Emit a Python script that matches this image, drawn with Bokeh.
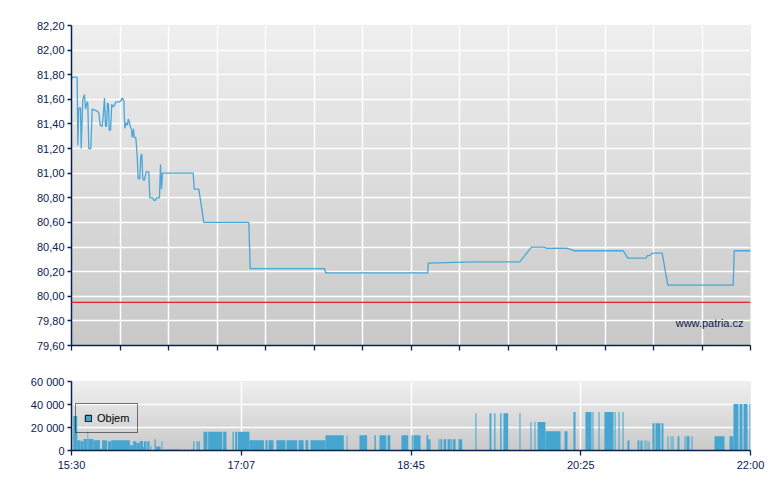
import numpy as np
from bokeh.plotting import figure
from bokeh.models import Range1d, FixedTicker, Legend, LegendItem, Label, Span
from bokeh.layouts import column
from bokeh.embed import file_html
from bokeh.resources import INLINE

# ---------------- data ----------------
# minutes after 15:30
price_times = [0, 0.75, 3.27, 3.62, 4.19, 5.17, 5.57, 6.49, 7.47, 8.04, 9.02, 9.36, 9.94, 11.09,
               11.89, 13.78, 15.11, 15.68, 16.48, 17.63, 18.38, 18.95, 19.53, 20.10, 20.68, 21.25,
               21.65, 22.40, 23.15, 23.95, 24.70, 25.44, 27.74, 28.55, 29.12, 30.04, 30.61, 31.42,
               32.16, 32.57, 33.31, 33.89, 34.46, 34.86, 35.61, 36.01, 36.93, 37.74, 38.31, 39.23,
               39.80, 40.38, 40.95, 41.76, 42.91, 44.40, 44.97, 46.70, 47.27, 48.25, 48.65, 50.54,
               51.12, 51.69, 52.27, 69.90, 70.47, 73.12, 75.99, 101.84, 102.64, 145.32, 145.89,
               204.65, 204.88, 231.07, 257.49, 264.21, 271.28, 272.83, 284.72, 288.51, 316.88,
               319.52, 330.09, 330.67, 332.16, 333.54, 339.28, 342.50, 380.06, 380.64, 390]
prices = [81.77, 81.78, 81.78, 81.225, 81.53, 81.53, 81.20, 81.60, 81.64, 81.52, 81.58, 81.57,
          81.20, 81.20, 81.52, 81.51, 81.50, 81.49, 81.39, 81.38, 81.49, 81.61, 81.38, 81.38,
          81.57, 81.56, 81.35, 81.35, 81.56, 81.54, 81.55, 81.58, 81.58, 81.59, 81.61, 81.59,
          81.365, 81.41, 81.39, 81.44, 81.41, 81.37, 81.36, 81.29, 81.36, 81.29, 81.29, 81.14,
          80.955, 80.955, 81.14, 81.155, 80.955, 80.94, 81.01, 81.01, 80.80, 80.80, 80.78, 80.78,
          80.80, 80.80, 81.07, 80.87, 81.00, 81.00, 80.87, 80.87, 80.60, 80.60, 80.225, 80.225,
          80.19, 80.19, 80.27, 80.28, 80.28, 80.40, 80.40, 80.39, 80.39, 80.37, 80.37, 80.31,
          80.31, 80.33, 80.33, 80.35, 80.35, 80.09, 80.09, 80.37, 80.37]
prev_close = 79.95

vol_start = [1.0, 3.3, 5.2, 6.9, 9.2, 9.6, 12.6, 16.3, 17.6, 21.0,
             22.8, 33.5, 35.4, 37.3, 39.2, 41.1, 41.6, 43.5, 45.4, 47.7,
             48.4, 51.7, 52.3, 64.3, 66.9, 68.9, 69.9, 71.8, 72.9, 75.8,
             78.5, 87.1, 92.5, 94.0, 95.6, 102.2, 111.4, 113.2, 117.7, 123.5,
             130.4, 134.4, 137.3, 145.9, 158.0, 165.4, 174.0, 176.9, 181.5, 189.5,
             195.3, 196.4, 203.9, 204.9, 210.8, 211.9, 213.7, 216.0, 218.1, 219.2,
             222.3, 232.0, 240.1, 242.8, 246.2, 248.1, 257.3, 263.6, 265.9, 267.7,
             272.2, 283.2, 288.3, 295.2, 299.2, 302.7, 306.1, 311.9, 314.2, 316.5,
             319.3, 325.1, 326.8, 329.1, 330.3, 331.4, 333.7, 335.4, 338.9, 342.3,
             344.1, 345.2, 348.1, 352.1, 353.2, 356.1, 369.3, 377.9, 380.2, 383.7,
             386.0, 389.4]
vol_end = [3.3, 5.2, 6.9, 9.2, 9.6, 12.6, 16.3, 17.5, 20.5, 22.7,
           33.5, 35.4, 37.3, 39.2, 41.1, 41.6, 43.1, 44.8, 45.9, 48.4,
           51.1, 52.2, 62.2, 64.9, 67.5, 69.5, 70.6, 72.5, 73.7, 78.1,
           86.6, 89.0, 93.2, 95.2, 102.2, 110.5, 112.6, 116.0, 122.9, 129.6,
           133.3, 136.0, 145.9, 156.4, 158.5, 169.8, 174.8, 180.8, 183.1, 193.4,
           196.0, 200.5, 204.9, 206.2, 211.4, 212.9, 215.2, 217.7, 218.7, 220.6,
           224.4, 232.6, 241.2, 243.5, 247.0, 250.8, 257.9, 264.2, 266.5, 272.2,
           280.9, 284.9, 289.5, 298.7, 299.8, 303.3, 311.3, 312.5, 314.8, 317.1,
           320.5, 326.2, 328.0, 329.7, 330.8, 332.0, 334.9, 338.3, 340.0, 342.9,
           344.6, 345.8, 349.2, 352.7, 355.0, 356.7, 375.1, 380.2, 383.1, 385.4,
           388.3, 390.0]
volumes = [30000, 9000, 8000, 10000, 16500, 10000, 9000, 1500, 9000, 8000,
           9000, 4500, 8000, 6500, 8200, 3000, 8000, 8000, 4000, 9700,
           3500, 8000, 900, 900, 900, 1500, 8000, 8000, 8000, 16200,
           16200, 16200, 16200, 16200, 16200, 9000, 9000, 9000, 9000, 9000,
           9000, 9000, 9000, 13200, 13200, 13200, 13200, 13200, 13200, 13200,
           13200, 13200, 13200, 9700, 9700, 9700, 9700, 9700, 9700, 9700,
           9700, 32500, 32500, 32500, 32500, 32500, 32500, 24700, 24700, 24700,
           16800, 16800, 33500, 33500, 33500, 33500, 33500, 33500, 33500, 33500,
           8800, 8800, 8800, 8800, 8800, 8000, 23800, 23800, 23800, 12300,
           12300, 12300, 12300, 12300, 12300, 12300, 12300, 12300, 40500, 40500,
           40500, 40500]

price_ticks = [79.6, 79.8, 80.0, 80.2, 80.4, 80.6, 80.8, 81.0, 81.2, 81.4, 81.6, 81.8, 82.0, 82.2]
price_tick_labels = ["79,60", "79,80", "80,00", "80,20", "80,40", "80,60", "80,80", "81,00",
                     "81,20", "81,40", "81,60", "81,80", "82,00", "82,20"]
vol_ticks = [0, 20000, 40000, 60000]
vol_tick_labels = ["0", "20 000", "40 000", "60 000"]
time_ticks = [0, 97.5, 195, 292.5, 390]
time_tick_labels = ["15:30", "17:07", "18:45", "20:25", "22:00"]
session_minutes = 390

# ---------------- style ----------------
NAVY = "#0b2150"
LINE = "#4aa6d6"
BAR = "#46a6d0"
FONT = "Liberation Sans"


def gradient(top, bottom, n=128):
    vals = np.linspace(bottom, top, n).round().astype(np.uint8)
    img = np.empty((n, 2), dtype=np.uint32)
    view = img.view(dtype=np.uint8).reshape((n, 2, 4))
    view[:, :, 0] = vals[:, None]
    view[:, :, 1] = vals[:, None]
    view[:, :, 2] = vals[:, None]
    view[:, :, 3] = 255
    return img


def style_axes(p):
    for ax in (p.xaxis, p.yaxis):
        ax.axis_line_color = NAVY
        ax.axis_line_width = 1.5
        ax.major_tick_line_color = NAVY
        ax.major_tick_line_width = 1.3
        ax.major_tick_in = 0
        ax.minor_tick_line_color = None
        ax.major_label_text_font = FONT
        ax.major_label_text_font_size = "11px"
        ax.major_label_text_color = NAVY
    p.yaxis.major_tick_out = 4
    p.yaxis.major_label_standoff = 3
    p.xaxis.major_tick_out = 5
    p.xaxis.major_label_standoff = 3
    p.grid.grid_line_color = "white"
    p.grid.grid_line_width = 1.5
    p.outline_line_color = None
    p.border_fill_color = "white"
    p.background_fill_color = "#dcdcdc"


# ---------------- price chart ----------------
p1 = figure(frame_width=679, frame_height=320, min_border_left=71, min_border_right=15,
            min_border_top=25, min_border_bottom=10,
            x_range=Range1d(0, session_minutes), y_range=Range1d(price_ticks[0], price_ticks[-1]),
            output_backend="svg", toolbar_location=None)
p1.image_rgba(image=[gradient(239, 200)], x=0, y=price_ticks[0], dw=session_minutes,
              dh=price_ticks[-1] - price_ticks[0], level="image")
style_axes(p1)
minor_time_ticks = [i * session_minutes / 14 for i in range(15)]
p1.xaxis.ticker = FixedTicker(ticks=minor_time_ticks)
p1.xaxis.major_label_overrides = {t: "" for t in minor_time_ticks}
p1.xaxis.major_label_standoff = 0
p1.yaxis.ticker = FixedTicker(ticks=price_ticks)
p1.yaxis.major_label_overrides = dict(zip(price_ticks, price_tick_labels))

p1.add_layout(Span(location=prev_close, dimension="width", line_color="#e0262a", line_width=1.2))
p1.line(price_times, prices, line_color=LINE, line_width=1.3)
p1.add_layout(Label(x=386, y=79.78, text="www.patria.cz", text_align="right",
                    text_baseline="middle", text_font=FONT, text_font_size="11px",
                    text_color=NAVY))

# ---------------- volume chart ----------------
p2 = figure(frame_width=679, frame_height=69, min_border_left=71, min_border_right=15,
            min_border_top=26, min_border_bottom=24,
            x_range=Range1d(0, session_minutes), y_range=Range1d(vol_ticks[0], vol_ticks[-1]),
            output_backend="svg", toolbar_location=None)
p2.image_rgba(image=[gradient(239, 202)], x=0, y=vol_ticks[0], dw=session_minutes,
              dh=vol_ticks[-1] - vol_ticks[0], level="image")
style_axes(p2)
p2.xaxis.ticker = FixedTicker(ticks=time_ticks)
p2.xaxis.major_label_overrides = dict(zip(time_ticks, time_tick_labels))
p2.yaxis.ticker = FixedTicker(ticks=vol_ticks)
p2.yaxis.major_label_overrides = dict(zip(vol_ticks, vol_tick_labels))

p2.quad(left=vol_start, right=vol_end, top=volumes, bottom=0, fill_color=BAR, line_color=None)
# hidden copy of the bars, used only to draw the outlined legend swatch
swatch = p2.quad(left=vol_start, right=vol_end, top=volumes, bottom=0, fill_color=BAR,
                 line_color="black", line_width=1, visible=False)
legend = Legend(items=[LegendItem(label="Objem", renderers=[swatch])], location=(4, 17),
                border_line_color="black", border_line_width=1, background_fill_alpha=0,
                padding=8, spacing=0, margin=0, label_standoff=5, glyph_width=8, glyph_height=8,
                label_height=12, label_text_font=FONT, label_text_font_size="11px",
                label_text_color="black")
p2.add_layout(legend)

layout = column(p1, p2)
open("out.html", "w").write(file_html(layout, INLINE))
